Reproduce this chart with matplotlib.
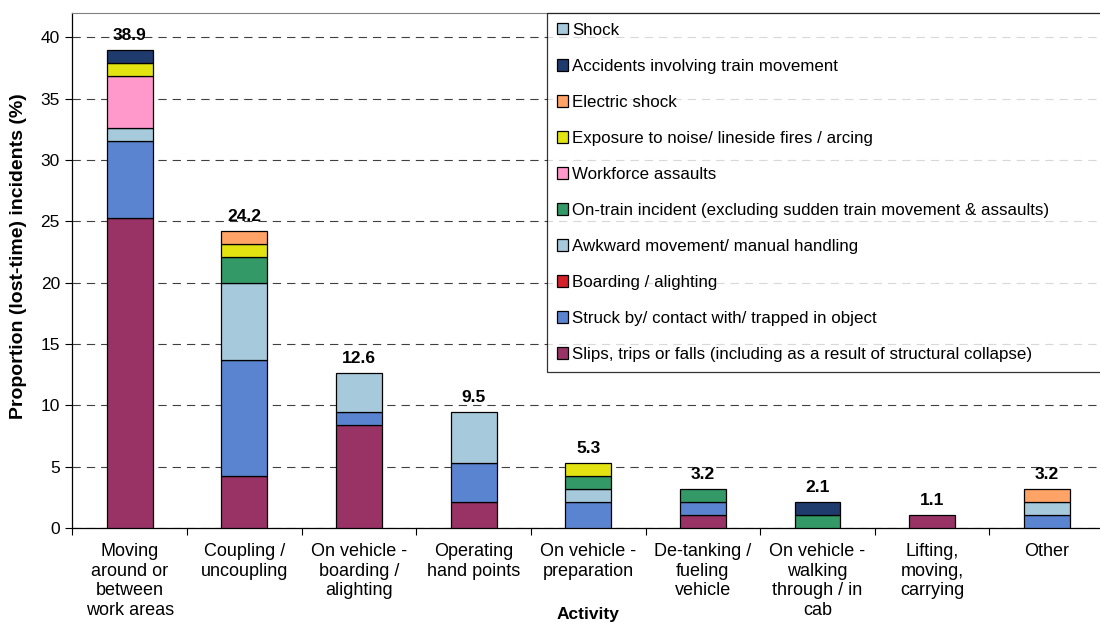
import matplotlib
matplotlib.use("Agg")
import matplotlib.pyplot as plt
import numpy as np

plt.rcParams['font.family'] = ['Liberation Sans', 'DejaVu Sans']
plt.rcParams['lines.scale_dashes'] = False

categories = ["Moving\naround or\nbetween\nwork areas", "Coupling /\nuncoupling",
              "On vehicle -\nboarding /\nalighting", "Operating\nhand points",
              "On vehicle -\npreparation", "De-tanking /\nfueling\nvehicle",
              "On vehicle -\nwalking\nthrough / in\ncab", "Lifting,\nmoving,\ncarrying", "Other"]

# stacked bottom -> top
slips = [25.263, 4.211, 8.421, 2.105, 0, 1.053, 0, 1.053, 0]
struck = [6.316, 9.474, 1.053, 3.158, 2.105, 1.053, 0, 0, 1.053]
boarding = [0, 0, 0, 0, 0, 0, 0, 0, 0]
awkward = [1.053, 6.316, 3.158, 4.211, 1.053, 0, 0, 0, 1.053]
on_train = [0, 2.105, 0, 0, 1.053, 1.053, 1.053, 0, 0]
assaults = [4.211, 0, 0, 0, 0, 0, 0, 0, 0]
exposure = [1.053, 1.053, 0, 0, 1.053, 0, 0, 0, 0]
electric = [0, 1.053, 0, 0, 0, 0, 0, 0, 1.053]
train_move = [1.053, 0, 0, 0, 0, 0, 1.053, 0, 0]
shock = [0, 0, 0, 0, 0, 0, 0, 0, 0]

series = [
    ("Slips, trips or falls (including as a result of structural collapse)", slips, '#993366'),
    ("Struck by/ contact with/ trapped in object", struck, '#5B84D0'),
    ("Boarding / alighting", boarding, '#D42027'),
    ("Awkward movement/ manual handling", awkward, '#A6CADB'),
    ("On-train incident (excluding sudden train movement & assaults)", on_train, '#339966'),
    ("Workforce assaults", assaults, '#FF99CC'),
    ("Exposure to noise/ lineside fires / arcing", exposure, '#E2E310'),
    ("Electric shock", electric, '#FFA366'),
    ("Accidents involving train movement", train_move, '#1F3A6C'),
    ("Shock", shock, '#A6CADB'),
]

fig = plt.figure(figsize=(11, 6.25), dpi=100)
ax = fig.add_axes([0.0659, 0.1552, 0.9377, 0.8245])

x = np.arange(len(categories))
bottom = np.zeros(len(categories))
handles = []
for name, vals, col in series:
    vals = np.array(vals, dtype=float)
    lws = [0.9 if v > 0 else 0 for v in vals]
    b = ax.bar(x, vals, 0.4, bottom=bottom, color=col, edgecolor='black', linewidth=lws,
               label=name, zorder=3)
    handles.append(b)
    bottom += vals

for xi, tot in zip(x, bottom):
    ax.annotate(f"{tot:.1f}", (xi, tot), xytext=(0, 5), textcoords='offset points',
                ha='center', va='bottom', fontsize=12.5, fontweight='bold', zorder=4)

ax.set_xlim(-0.5, len(categories) - 0.5)
ax.set_ylim(0, 42)
ax.set_yticks(np.arange(0, 41, 5))
ax.set_xticks(x)
ax.set_xticklabels(categories, fontsize=13)
ax.set_xticks(np.arange(-0.5, len(categories), 1), minor=True)
ax.tick_params(axis='x', which='major', length=0, pad=11)
ax.tick_params(axis='x', which='minor', length=5, direction='out', width=0.8)
ax.tick_params(axis='y', labelsize=12.5, length=5, width=0.8, pad=4)

ax.yaxis.grid(True, linestyle=(0, (6, 4.3)), color='#404040', linewidth=0.8, zorder=0)
ax.set_axisbelow(True)

ax.spines['right'].set_visible(False)
ax.spines['top'].set_color('#808080')
ax.spines['left'].set_linewidth(0.9)
ax.spines['bottom'].set_linewidth(0.9)

ax.set_ylabel("Proportion (lost-time) incidents (%)", fontsize=14, fontweight='bold')
ax.yaxis.set_label_coords(-0.044, 0.528)
ax.set_xlabel("Activity", fontsize=12.5, fontweight='bold')
ax.xaxis.set_label_coords(0.5, -0.1525)
ax.xaxis.label.set_verticalalignment('top')

leg = ax.legend([h.patches[0] for h in handles[::-1]], [s[0] for s in series][::-1],
                loc='upper left', bbox_to_anchor=(0.4597, 0.0, 0.56, 1.0), mode='expand',
                borderaxespad=0, fontsize=12.2, frameon=True, fancybox=False, labelspacing=1.24,
                handlelength=0.64, handleheight=0.64, handletextpad=0.26, borderpad=0.6)
leg.get_frame().set_edgecolor('black')
leg.get_frame().set_linewidth(0.9)
for p in leg.get_patches():
    p.set_linewidth(0.9)
    p.set_edgecolor('black')
leg.set_zorder(5)

fig.savefig("out.png", dpi=100)
